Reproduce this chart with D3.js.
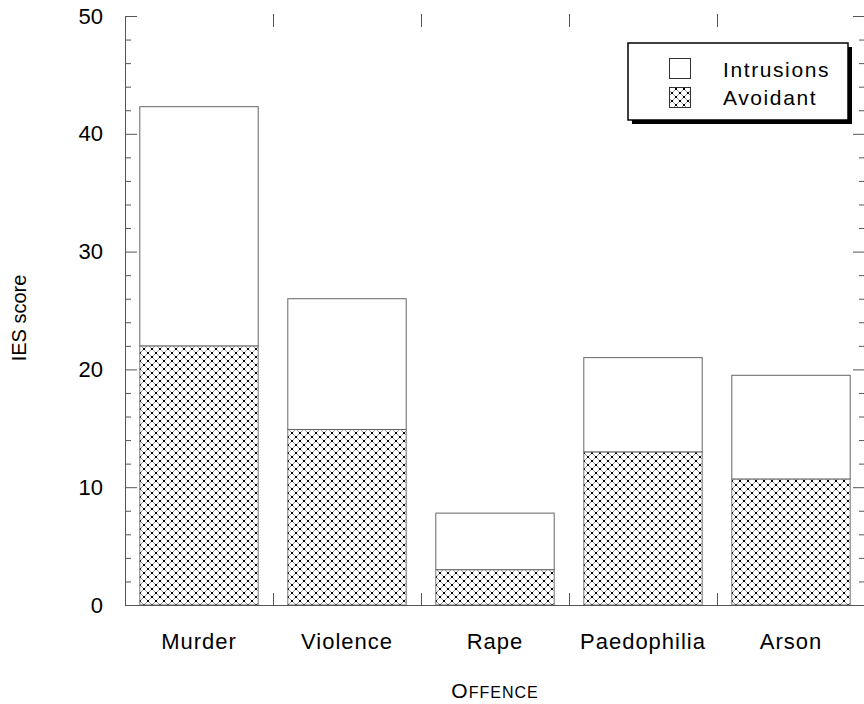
<!DOCTYPE html>
<html>
<head>
<meta charset="utf-8">
<script src="https://cdn.jsdelivr.net/npm/d3@7"></script>
<style>
  html, body { margin: 0; padding: 0; background: #fff; }
  svg { display: block; font-family: "Liberation Sans", Arial, Helvetica, sans-serif; }
</style>
</head>
<body>
<svg id="chart" width="864" height="704"></svg>
<script>
// Mean IES subscale scores by offence type
const offences   = ["Murder", "Violence", "Rape", "Paedophilia", "Arson"];
const avoidant   = [22.0, 14.9, 3.0, 13.0, 10.7];
const intrusions = [20.3, 11.1, 4.8, 8.0, 8.8];
const seriesNames = ["Intrusions", "Avoidant"];
const yMajorTicks = [0, 10, 20, 30, 40, 50];

const svg = d3.select("#chart");
const plotLeft = 125, plotRight = 865, plotTop = 16, plotBottom = 605;

const x = d3.scaleBand().domain(offences).range([plotLeft, plotRight]).paddingInner(0.2).paddingOuter(0.1);
const y = d3.scaleLinear().domain([0, 50]).range([plotBottom, plotTop]);

// Cross-hatch with dotted intersections
const defs = svg.append("defs");
const pat = defs.append("pattern")
  .attr("id", "hatch").attr("patternUnits", "userSpaceOnUse")
  .attr("width", 8).attr("height", 8).attr("x", 0).attr("y", 1);
pat.append("rect").attr("width", 8).attr("height", 8).attr("fill", "#fff");
pat.append("path").attr("d", "M4,0 L8,4 L4,8 L0,4 Z")
  .attr("fill", "none").attr("stroke", "#9a9a9a").attr("stroke-width", 1);
[[3, -1], [-1, 3], [7, 3], [3, 7]].forEach(([px, py]) =>
  pat.append("rect").attr("x", px).attr("y", py).attr("width", 2).attr("height", 2).attr("fill", "#000"));

// Stacked bars: avoidant at the base, intrusions on top
const rows = offences.map((o, i) => ({ offence: o, Avoidant: avoidant[i], Intrusions: intrusions[i] }));
const stacked = d3.stack().keys(["Avoidant", "Intrusions"])(rows);

const bars = svg.append("g");
bars.selectAll("rect.avoid").data(stacked[0]).join("rect")
  .attr("class", "avoid")
  .attr("x", d => x(d.data.offence)).attr("width", x.bandwidth())
  .attr("y", d => y(d[1])).attr("height", d => y(d[0]) - y(d[1]))
  .attr("fill", "url(#hatch)").attr("stroke", "#777").attr("stroke-width", 1);
bars.selectAll("rect.intr").data(stacked[1]).join("rect")
  .attr("class", "intr")
  .attr("x", d => x(d.data.offence)).attr("width", x.bandwidth())
  .attr("y", d => y(d[1])).attr("height", d => y(d[0]) - y(d[1]))
  .attr("fill", "#fff").attr("stroke", "#666").attr("stroke-width", 1);

// Axes
const minorTicks = d3.range(0, 51, 2).filter(v => v % 10 !== 0);
const axisStyle = g => {
  g.selectAll(".domain, .tick line").attr("stroke", "#555").attr("stroke-width", 1);
  g.selectAll("text").attr("fill", "#000").attr("font-size", 22)
    .attr("font-family", "'Liberation Sans', Arial, sans-serif");
};

svg.append("g").attr("transform", `translate(${plotLeft},0)`)
  .call(d3.axisLeft(y).tickValues(yMajorTicks).tickSize(-12).tickSizeOuter(0).tickPadding(22))
  .call(axisStyle);
svg.append("g").attr("transform", `translate(${plotLeft},0)`)
  .call(d3.axisLeft(y).tickValues(minorTicks).tickSize(-6).tickFormat("").tickSizeOuter(0))
  .call(g => g.select(".domain").remove()).call(axisStyle);

svg.append("g").attr("transform", `translate(${plotRight},0)`)
  .call(d3.axisRight(y).tickValues(yMajorTicks).tickSize(-12).tickFormat("").tickSizeOuter(0))
  .call(axisStyle);
svg.append("g").attr("transform", `translate(${plotRight},0)`)
  .call(d3.axisRight(y).tickValues(minorTicks).tickSize(-6).tickFormat("").tickSizeOuter(0))
  .call(g => g.select(".domain").remove()).call(axisStyle);

// Category boundaries as inward ticks on the top and bottom edges
const boundaries = d3.range(1, offences.length).map(i => plotLeft + i * (plotRight - plotLeft) / offences.length);
const xb = d3.scaleLinear().domain([plotLeft, plotRight]).range([plotLeft, plotRight]);

svg.append("g").attr("transform", `translate(0,${plotBottom})`)
  .call(d3.axisBottom(xb).tickValues(boundaries).tickSize(-12).tickFormat("").tickSizeOuter(0))
  .call(axisStyle);
svg.append("g").attr("transform", `translate(0,${plotTop - 2})`)
  .call(d3.axisTop(xb).tickValues(boundaries).tickSize(-13).tickFormat("").tickSizeOuter(0))
  .call(g => g.select(".domain").remove()).call(axisStyle);

// Category labels
svg.append("g").selectAll("text").data(offences).join("text")
  .attr("x", d => x(d) + x.bandwidth() / 2).attr("y", 649)
  .attr("text-anchor", "middle").attr("font-size", 22).attr("letter-spacing", 1).text(d => d);

// Axis titles
svg.append("text")
  .attr("transform", `translate(26,318) rotate(-90)`)
  .attr("text-anchor", "middle").attr("font-size", 20).text("IES score");

const xt = svg.append("text").attr("x", 495).attr("y", 698).attr("text-anchor", "middle")
  .attr("letter-spacing", 1);
xt.append("tspan").attr("font-size", 21).text("O");
xt.append("tspan").attr("font-size", 16).text("FFENCE");

// Legend with drop shadow
const lg = svg.append("g");
lg.append("rect").attr("x", 632).attr("y", 47).attr("width", 220).attr("height", 77).attr("fill", "#000");
lg.append("rect").attr("x", 628).attr("y", 43).attr("width", 220).attr("height", 77)
  .attr("fill", "#fff").attr("stroke", "#000").attr("stroke-width", 1.5);
const fills = { Intrusions: "#fff", Avoidant: "url(#hatch)" };
seriesNames.forEach((s, i) => {
  lg.append("rect").attr("x", 669.5).attr("y", 58.5 + i * 29).attr("width", 21).attr("height", 20)
    .attr("fill", fills[s]).attr("stroke", "#333").attr("stroke-width", 1);
  lg.append("text").attr("x", 723).attr("y", 77 + i * 28).attr("font-size", 21)
    .attr("letter-spacing", 1.6).text(s);
});
</script>
</body>
</html>
